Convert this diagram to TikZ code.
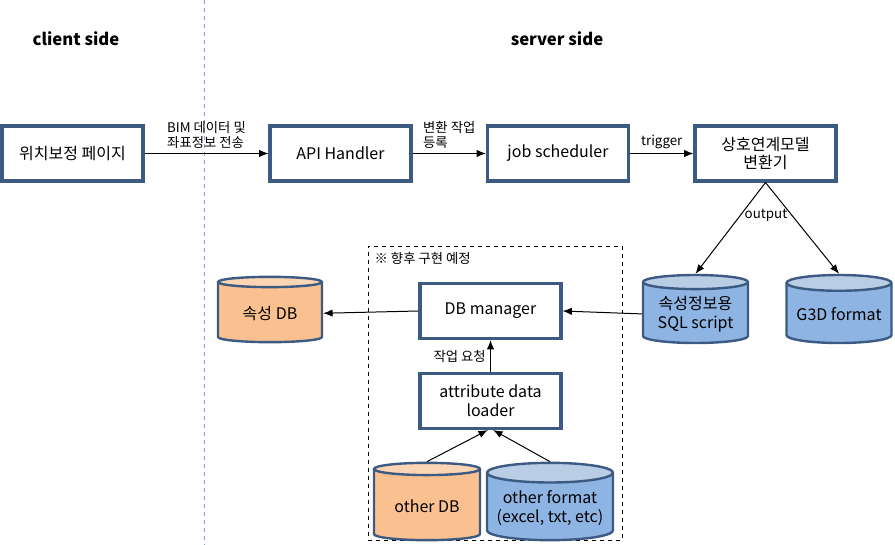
\documentclass[tikz,border=0pt]{standalone}
\usepackage{fontspec}
\setmainfont{Noto Sans CJK KR}
\usetikzlibrary{shapes.geometric,arrows.meta}
\definecolor{boxline}{HTML}{3C5A82}
\definecolor{sideline}{HTML}{7F9FCF}
\definecolor{orbody}{HTML}{FAC090}
\definecolor{ortop}{HTML}{FCD5B5}
\definecolor{bubody}{HTML}{8EB4E3}
\definecolor{butop}{HTML}{B9CDE5}
\tikzset{
    box/.style={draw=boxline, line width=2.3pt, fill=white, minimum width=105.75pt,
        minimum height=41.25pt, align=center, font=\fontsize{12}{14}\selectfont},
    dbase/.style={cylinder, shape border rotate=90, draw=boxline, line width=1.8pt,
        aspect=0.18, cylinder uses custom fill, align=center, inner sep=1pt,
        anchor=shape center, font=\fontsize{12}{14}\selectfont},
    ordb/.style={dbase, cylinder body fill=orbody, cylinder end fill=ortop},
    budb/.style={dbase, cylinder body fill=bubody, cylinder end fill=butop},
    lbl/.style={font=\fontsize{10}{11.5}\selectfont, align=left},
    title/.style={font=\fontsize{12.5}{14}\selectfont\bfseries},
    link/.style={->, line width=0.75pt}
}
\begin{document}
\begin{tikzpicture}[>={Latex[length=7pt,width=5.5pt]}, x=0.75pt, y=-0.75pt]
\useasboundingbox (0,0) rectangle (895,545);
\draw[sideline, dashed] (204,0)--(204,545);
\node[title] (client) at (76,39) {client side};
\node[title] (server) at (557,39) {server side};

\node[box] (page) at (72.5,153.5) {위치보정 페이지};
\node[box] (api) at (340.5,153.5) {API Handler};
\node[box] (sched) at (558,153.5) {job scheduler};
\node[box] (conv) at (765.5,153.5) {상호연계모델\\변환기};

\draw[link] (page)--(api) node[lbl, midway, above]{BIM 데이터 및\\좌표정보 전송};
\draw[link] (api)--(sched) node[lbl, midway, above]{변환 작업\\등록};
\draw[link] (sched)--(conv) node[lbl, midway, above]{trigger};

\node[budb, minimum width=78.75pt, minimum height=51pt] (sql) at (695.5,309) {속성정보용\\SQL script};
\node[budb, minimum width=78.75pt, minimum height=51pt] (g3d) at (839,309) {G3D format};
\draw[link] (conv.south)--(sql.north);
\draw[link] (conv.south)--(g3d.north);
\node[lbl] (out) at (766,215) {output};

\node[draw, dashed, minimum width=190.5pt, minimum height=220.5pt] (plan) at (495,393) {};
\node[lbl, anchor=north west, inner sep=5pt] (plantxt) at (plan.north west) {※ 향후 구현 예정};

\node[ordb, minimum width=78pt, minimum height=49pt] (attrdb) at (270,309.5) {속성 DB};
\node[box] (mgr) at (490.5,311) {DB manager};
\node[box] (loader) at (490.5,401) {attribute data\\loader};
\draw[link] (sql.west)--(mgr.east);
\draw[link] (mgr.west)--(attrdb.east);
\draw[link] (loader.north)--(mgr.south) node[lbl, midway, left]{작업 요청};

\node[ordb, minimum width=79.5pt, minimum height=58pt] (odb) at (427,501.5) {other DB};
\node[budb, minimum width=94.5pt, minimum height=58pt] (ofmt) at (550,501.5) {other format\\(excel, txt, etc)};
\draw[link] (odb.north)--([xshift=-2pt]loader.south);
\draw[link] (ofmt.north)--([xshift=2pt]loader.south);
\end{tikzpicture}
\end{document}
